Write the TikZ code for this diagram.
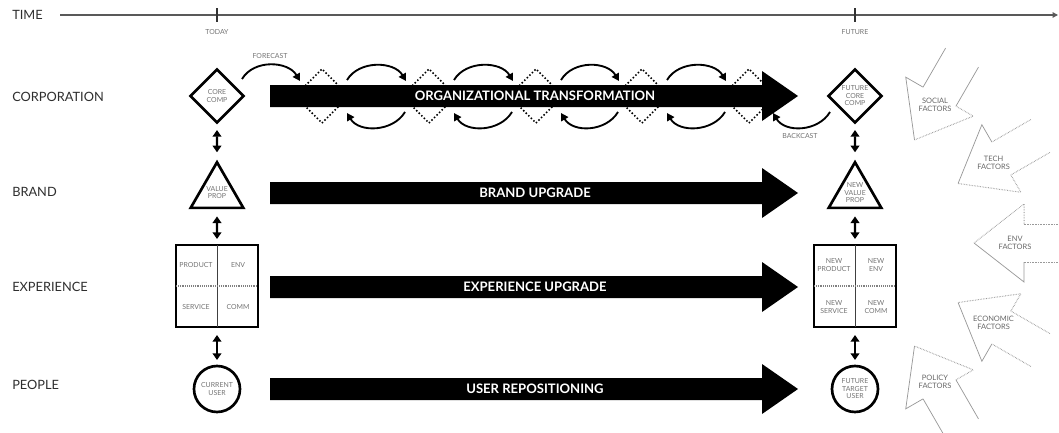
\documentclass[tikz,border=0pt]{standalone}
\usepackage{fontspec}
\setmainfont{Lato}
\usetikzlibrary{arrows.meta,shapes.geometric}
\newdimen\pxu \pxu=0.75pt
\newcommand\mybar[4]{%
  \fill (270,#1-11) -- (762,#1-11) -- (762,#1-25) -- (798,#1) -- (762,#1+25) -- (762,#1+11) -- (270,#1+11) -- cycle;
  \node[barlbl] (#2) at (535,#1) {#3};}
\newcommand\factorarrow[6]{%
  \begin{scope}[shift={(855,243)},rotate=#1]
    \draw[#6] (214,-19) -- (169,-19);
    \draw[#6] (214,19) -- (169,19);
    \draw[#4] (169,-19) -- (169,-39) -- (119,0);
    \draw[#5] (119,0) -- (169,39) -- (169,19);
    \node[faclbl] (#2) at (160,0) {#3};
  \end{scope}}
\begin{document}
\begin{tikzpicture}[x=0.75pt,y=-0.75pt,
  rowlbl/.style={anchor=west,inner sep=0,text=black!82,font=\fontsize{9.6pt}{11pt}\selectfont},
  smalltxt/.style={inner sep=0,align=center,text=black!55,font=\fontsize{5.2pt}{5.6pt}\selectfont},
  barlbl/.style={inner sep=0,text=white,font=\fontsize{9.8pt}{11pt}\selectfont\bfseries},
  shp/.style={draw=black,line width=2pt,inner sep=0,outer sep=0,align=center,text=black!55,font=\fontsize{5.2pt}{5.6pt}\selectfont},
  corebox/.style={shp,diamond,aspect=1,minimum size=53\pxu},
  propbox/.style={shp,regular polygon,regular polygon sides=3,minimum size=55\pxu},
  gridbox/.style={shp,rectangle,minimum size=82\pxu},
  userbox/.style={shp,circle,minimum size=46\pxu},
  dotdiam/.style={diamond,aspect=1,minimum size=54\pxu,draw,line width=1.6pt,dash pattern=on 0pt off 2.7pt,line cap=round,inner sep=0,outer sep=0},
  dbl/.style={line width=1.7pt,{Triangle[length=5pt,width=6.5pt]}-{Triangle[length=5pt,width=6.5pt]}},
  carc/.style={line width=1.4pt,-{Triangle[length=5.5pt,width=6pt]}},
  fsol/.style={draw=black!40,line width=0.55pt},
  fdot/.style={draw=black!40,line width=0.75pt,dash pattern=on 0.45pt off 0.75pt},
  faclbl/.style={smalltxt,text=black!60,font=\fontsize{5.6pt}{5.9pt}\selectfont},
  timeln/.style={draw=black!65,line width=1pt,-{Triangle[length=4pt,width=4pt]}},
  tick/.style={draw=black!80,line width=0.8pt}
]
\clip (0,0) rectangle (1059,432);
% time axis
\node[rowlbl] (ltime) at (12,15) {TIME};
\coordinate (t0) at (60,15);
\coordinate (t1) at (1058,15);
\draw[timeln] (t0) -- (t1);
\coordinate (tod) at (217,15);
\coordinate (fut) at (855,15);
\draw[tick] ([yshift=7\pxu]tod) -- ([yshift=-7\pxu]tod);
\draw[tick] ([yshift=7\pxu]fut) -- ([yshift=-7\pxu]fut);
\node[smalltxt] (ltoday) at (217,32) {TODAY};
\node[smalltxt] (lfuture) at (855,32) {FUTURE};
% row labels
\node[rowlbl] (lcorp) at (12,97) {CORPORATION};
\node[rowlbl] (lbrand) at (12,192) {BRAND};
\node[rowlbl] (lexp) at (12,287) {EXPERIENCE};
\node[rowlbl] (lpeople) at (12,385) {PEOPLE};
% today column
\node[corebox] (ccore) at (217,96) {CORE\\COMP};
\node[propbox] (cprop) at (217,192.7) {VALUE\\PROP};
\node[gridbox] (cexp) at (217,286) {};
\draw[black!75,line width=0.6pt] (cexp.north) -- (cexp.south);
\draw[black!50,line width=0.8pt,dash pattern=on 0.6pt off 0.8pt] (cexp.west) -- (cexp.east);
\node[smalltxt] (cprod) at (196,265) {PRODUCT};
\node[smalltxt] (cenv) at (238,265) {ENV};
\node[smalltxt] (cserv) at (196,307) {SERVICE};
\node[smalltxt] (ccomm) at (238,307) {COMM};
\node[userbox] (cuser) at (217,389) {CURRENT\\USER};
\draw[dbl,shorten <=7.5\pxu,shorten >=10\pxu] (ccore) -- (cprop);
\draw[dbl,shorten <=8.5\pxu,shorten >=6\pxu] (cprop) -- (cexp);
\draw[dbl,shorten <=8\pxu,shorten >=6\pxu] (cexp) -- (cuser);
% future column
\node[corebox] (fcore) at (855,96) {FUTURE\\CORE\\COMP};
\node[propbox] (fprop) at (855,192.7) {NEW\\VALUE\\PROP};
\node[gridbox] (fexp) at (855,286) {};
\draw[black!75,line width=0.6pt] (fexp.north) -- (fexp.south);
\draw[black!50,line width=0.8pt,dash pattern=on 0.6pt off 0.8pt] (fexp.west) -- (fexp.east);
\node[smalltxt] (fprod) at (834,265) {NEW\\PRODUCT};
\node[smalltxt] (fenv) at (876,265) {NEW\\ENV};
\node[smalltxt] (fserv) at (834,307) {NEW\\SERVICE};
\node[smalltxt] (fcomm) at (876,307) {NEW\\COMM};
\node[userbox] (fuser) at (855,389) {FUTURE\\TARGET\\USER};
\draw[dbl,shorten <=7.5\pxu,shorten >=10\pxu] (fcore) -- (fprop);
\draw[dbl,shorten <=8.5\pxu,shorten >=6\pxu] (fprop) -- (fexp);
\draw[dbl,shorten <=8\pxu,shorten >=6\pxu] (fexp) -- (fuser);
% dotted intermediate states
\foreach \i/\x in {1/322,2/429,3/536,4/642,5/749}
  \node[dotdiam] (d\i) at (\x,96) {};
% big arrows
\mybar{96}{borg}{ORGANIZATIONAL TRANSFORMATION}{}
\mybar{193}{bbrand}{BRAND UPGRADE}{}
\mybar{287}{bexp}{EXPERIENCE UPGRADE}{}
\mybar{389}{buser}{USER REPOSITIONING}{}
% forecast / backcast arcs
\draw[carc] ([shift={(25,-17)}]ccore.center) .. controls +(12,-20) and +(-12,-20) .. ([shift={(-22,-15)}]d1.center);
\node[smalltxt] (lfore) at (270,56) {FORECAST};
\foreach \i/\j in {1/2,2/3,3/4,4/5}{
  \draw[carc] ([shift={(25,-16)}]d\i.center) .. controls +(12,-20) and +(-12,-20) .. ([shift={(-23,-15)}]d\j.center);
  \draw[carc] ([shift={(-24,16)}]d\j.center) .. controls +(-12,20) and +(12,20) .. ([shift={(25,17)}]d\i.center);
}
\coordinate (bchead) at (773,113);
\draw[carc] ([shift={(-25,16)}]fcore.center) .. controls +(-12,20) and +(12,20) .. (bchead);
\node[smalltxt] (lback) at (800,136) {BACKCAST};
% external factors
\factorarrow{60}{fsoc}{SOCIAL\\FACTORS}{fsol}{fdot}{fsol}
\factorarrow{30}{ftech}{TECH\\FACTORS}{fsol}{fdot}{fdot}
\factorarrow{0}{fenvf}{ENV\\FACTORS}{fdot}{fsol}{fdot}
\factorarrow{-30}{fecon}{ECONOMIC\\FACTORS}{fdot}{fsol}{fdot}
\factorarrow{-60}{fpol}{POLICY\\FACTORS}{fdot}{fsol}{fsol}
\end{tikzpicture}
\end{document}
